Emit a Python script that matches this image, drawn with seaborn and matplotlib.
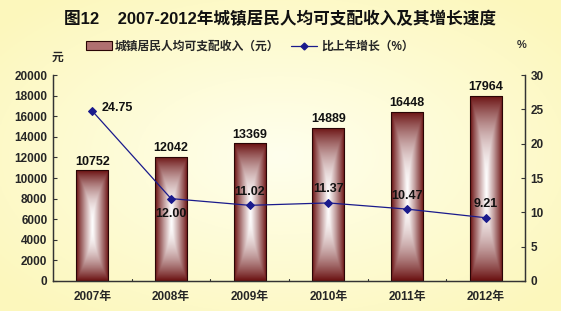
import numpy as np
import pandas as pd
import matplotlib
matplotlib.use("Agg")
import matplotlib.pyplot as plt
import seaborn as sns
from matplotlib.patches import Patch
from matplotlib.lines import Line2D

years = ["2007年", "2008年", "2009年", "2010年", "2011年", "2012年"]
income = [10752, 12042, 13369, 14889, 16448, 17964]
growth = [24.75, 12.00, 11.02, 11.37, 10.47, 9.21]
left_ticks = [0, 2000, 4000, 6000, 8000, 10000, 12000, 14000, 16000, 18000, 20000]
right_ticks = [0, 5, 10, 15, 20, 25, 30]

sns.set_theme(style="white")
plt.rcParams['font.family'] = ['Liberation Sans', 'Noto Sans CJK SC', 'DejaVu Sans']
plt.rcParams['font.weight'] = 'bold'

fig = plt.figure(figsize=(5.61, 3.11), dpi=100)
bg_col = '#FDFAC8'
fig.patch.set_facecolor(bg_col)

# background radial gradient
bgax = fig.add_axes([0, 0, 1, 1], zorder=-10)
yy, xx = np.mgrid[-1:1:200j, -1:1:300j]
r = np.clip(np.sqrt(xx**2 + yy**2) / 1.3, 0, 1)
c0 = np.array([1.0, 1.0, 0.93])
c1 = np.array([0.99, 0.97, 0.74])
img = c0[None, None, :] * (1 - r[..., None]) + c1[None, None, :] * r[..., None]
bgax.imshow(img, extent=[0, 1, 0, 1], aspect='auto')
bgax.axis('off')

ax = fig.add_axes([0.0945, 0.0965, 0.8414, 0.6623])
ax.set_facecolor('none')
df = pd.DataFrame({"year": years, "income": income, "growth": growth})
sns.barplot(data=df, x="year", y="income", ax=ax, width=0.41, color='#7a1c1c',
            edgecolor='#2a0505', linewidth=0.8, zorder=2)
ax.set_ylim(0, 20000)
ax.set_xlim(-0.5, 5.5)

# gradient bars
u = np.linspace(-1, 1, 60)
v = np.linspace(-1, 1, 120)
U, V = np.meshgrid(u, v)
t = np.clip(np.maximum(np.abs(U) ** 1.1, np.abs(V) ** 2.0), 0, 1)
dark = np.array([0.42, 0.07, 0.07])
light = np.array([1.0, 1.0, 1.0])
grad = light[None, None, :] * (1 - t[..., None]) + dark[None, None, :] * t[..., None]
for p in ax.patches:
    x0, y0 = p.get_x(), p.get_y()
    w, h = p.get_width(), p.get_height()
    im = ax.imshow(grad, extent=[x0, x0 + w, y0, y0 + h], aspect='auto', zorder=1.5,
                   interpolation='bilinear')
    im.set_clip_path(p)
    p.set_facecolor('none')
ax.set_xlim(-0.5, 5.5)
ax.set_ylim(0, 20000)

for i, val in enumerate(income):
    ax.text(i, val + 250, f"{val}", ha='center', va='bottom', fontsize=9, fontweight='bold',
            color='#111111', zorder=5)

ax.set_yticks(left_ticks)
ax.set_yticklabels([str(v) for v in left_ticks], fontsize=8.5, fontweight='bold')
ax.set_xticks(range(len(years)))
ax.set_xticklabels(years, fontsize=8.5, fontweight='bold')
ax.set_xlabel("")
ax.set_ylabel("")
ax.tick_params(axis='y', direction='in', length=3, width=0.8, color='#333333', pad=4)
ax.tick_params(axis='x', length=0, pad=7)
for x in np.arange(0.5, 5.5, 1.0):
    ax.plot([x, x], [0, 200], color='#333333', lw=0.8, zorder=3, clip_on=False)

ax2 = ax.twinx()
sns.lineplot(x=list(range(len(years))), y=growth, ax=ax2, color='#1a1a8c', lw=0.9,
             marker='D', markersize=3.8, markeredgecolor='#1a1a8c', zorder=4)
ax2.set_ylim(0, 30)
ax2.set_xlim(-0.5, 5.5)
ax2.set_yticks(right_ticks)
ax2.set_yticklabels([str(v) for v in right_ticks], fontsize=8.5, fontweight='bold')
ax2.tick_params(axis='y', direction='in', length=3, width=0.8, color='#333333', pad=4)

offsets = [(0.12, 0.4, 'left', 'center'), (0, -1.3, 'center', 'top'),
           (0, 1.1, 'center', 'bottom'), (0, 1.1, 'center', 'bottom'),
           (0, 1.1, 'center', 'bottom'), (0, 1.1, 'center', 'bottom')]
for i, g in enumerate(growth):
    dx, dy, ha, va = offsets[i]
    ax2.text(i + dx, g + dy, f"{g:.2f}", ha=ha, va=va, fontsize=9, fontweight='bold',
             color='#111111', zorder=6)

for a in (ax, ax2):
    for side in ['top']:
        a.spines[side].set_visible(False)
    for side in ['left', 'right', 'bottom']:
        a.spines[side].set_color('#333333')
        a.spines[side].set_linewidth(0.9)

fig.text(0.50, 0.94, "图12    2007-2012年城镇居民人均可支配收入及其增长速度", ha='center', va='center',
         fontsize=12, fontweight='bold', color='#111111')
fig.text(0.102, 0.815, "元", ha='center', va='center', fontsize=8.5, fontweight='bold')
fig.text(0.93, 0.855, "%", ha='center', va='center', fontsize=8, color='#333333')

handles = [Patch(facecolor='#b07070', edgecolor='#2a0505', linewidth=0.8),
           Line2D([0], [0], color='#1a1a8c', lw=0.9, marker='D', markersize=3.5)]
fig.legend(handles, ["城镇居民人均可支配收入（元）", "比上年增长（%）"], loc='center',
           bbox_to_anchor=(0.445, 0.85), ncol=2, frameon=False,
           handlelength=2.2, handleheight=0.7, columnspacing=1.0, handletextpad=0.3,
           prop={'weight': 'bold', 'size': 8.5})

fig.savefig("out.png", dpi=100, facecolor=fig.get_facecolor())
